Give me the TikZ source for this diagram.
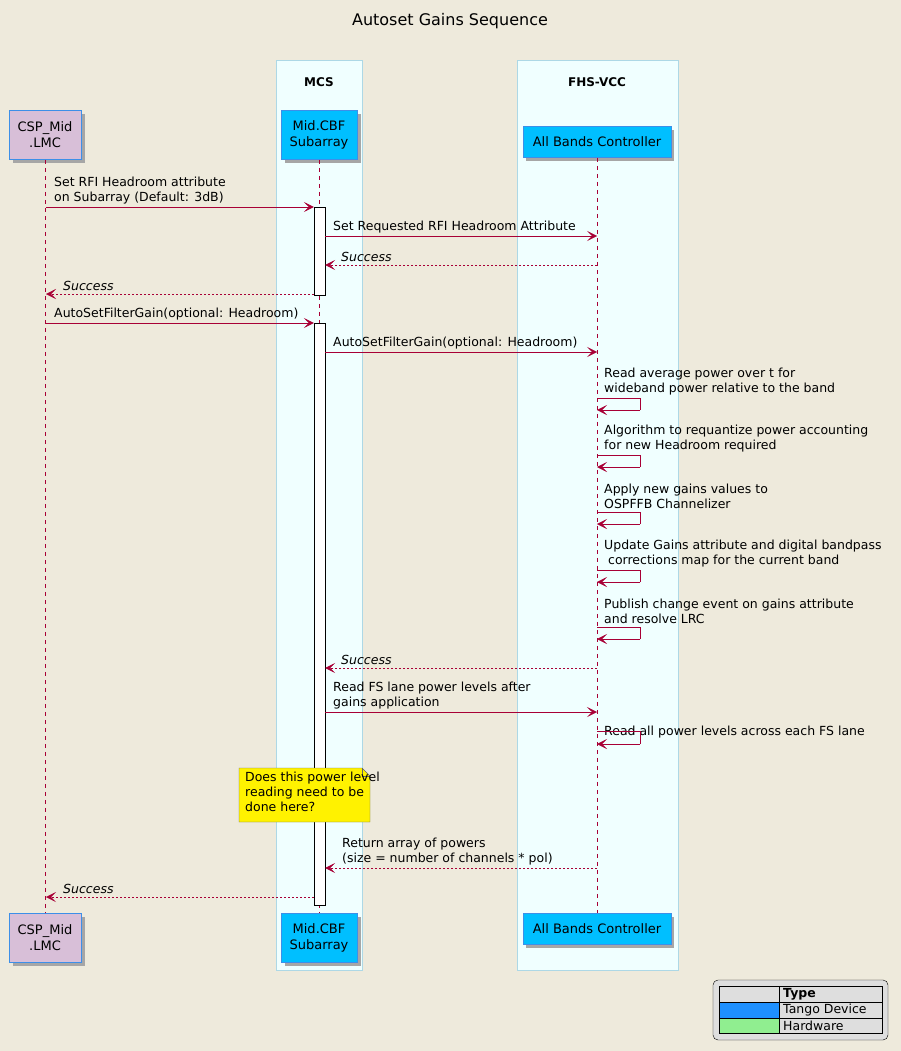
\documentclass[tikz,border=0pt]{standalone}
\usepackage{fontspec}
\setmainfont{DejaVu Sans}
\usetikzlibrary{arrows.meta,shapes.misc,shapes.multipart}
\definecolor{bgc}{HTML}{EEEADC}
\definecolor{lifec}{HTML}{A80036}
\definecolor{boxc}{HTML}{F0FFFF}
\definecolor{boxline}{HTML}{ADD8E6}
\definecolor{tango}{HTML}{00BFFF}
\definecolor{thist}{HTML}{D8BFD8}
\definecolor{partline}{HTML}{3D8FE8}
\definecolor{legblue}{HTML}{1E90FF}
\definecolor{leggreen}{HTML}{90EE90}
\tikzset{
  part/.style={draw=partline, thick, align=center, inner sep=0, font=\fontsize{13}{16}\selectfont},
  shade/.style={fill=black!35, draw=none},
  life/.style={lifec, dashed, dash pattern=on 4pt off 4pt},
  msg/.style={lifec, -{Stealth[length=10pt,width=10pt,inset=5pt]}},
  ret/.style={msg, dash pattern=on 2pt off 2pt},
  txt/.style={anchor=south west, align=left, inner sep=0, font=\fontsize{12.5}{15}\selectfont},
  act/.style={draw=black, fill=white}
}
\newcommand{\selfmsg}[2]{% y top, text
  \node[txt] at (604,#1-3) {#2};
  \draw[lifec] (lfhs |- 0,#1) -- (640,#1) -- (640,#1+12);
  \draw[msg] (640,#1+12) -- (lfhs |- 0,#1+12);
}
\begin{document}
\begin{tikzpicture}[x=1pt,y=-1pt]
  \fill[bgc] (0,0) rectangle (901,1051);
  \useasboundingbox (0,0) rectangle (901,1051);
  \node (title) at (450,21) {\fontsize{16}{19}\selectfont Autoset Gains Sequence};
  % boxes
  \draw[boxline, fill=boxc] (276,60) rectangle (362,970);
  \draw[boxline, fill=boxc] (517,60) rectangle (678,970);
  \node[font=\fontsize{12}{14}\selectfont\bfseries] (mcs) at (319,82) {MCS};
  \node[font=\fontsize{12}{14}\selectfont\bfseries] (fhs) at (597,82) {FHS-VCC};
  % participants
  \foreach \y/\t in {110/top,913/bot}{
    \fill[shade] (13,\y+4) rectangle (85,\y+53);
    \node[part, fill=thist, minimum width=72pt, minimum height=49pt, anchor=north] (csp\t) at (45,\y) {CSP\_Mid\\.LMC};
    \fill[shade] (285,\y+4) rectangle (361,\y+53);
    \node[part, fill=tango, minimum width=76pt, minimum height=49pt, anchor=north] (sub\t) at (319,\y) {Mid.CBF\\Subarray};
  }
  \fill[shade] (526,130) rectangle (674,161);
  \node[part, fill=tango, minimum width=148pt, minimum height=31pt, anchor=north] (abctop) at (597,126) {All Bands Controller};
  \fill[shade] (526,917) rectangle (674,948);
  \node[part, fill=tango, minimum width=148pt, minimum height=31pt, anchor=north] (abcbot) at (597,913) {All Bands Controller};
  % lifelines
  \coordinate (lcsp) at (46,0);
  \coordinate (lsub) at (319,0);
  \coordinate (lfhs) at (597,0);
  \draw[life] (csptop) -- (cspbot);
  \draw[life] (subtop) -- (subbot);
  \draw[life] (abctop) -- (abcbot);
  % activations
  \node[act, minimum width=11pt, minimum height=88pt, inner sep=0, anchor=north] (act1) at (319.5,207) {};
  \node[act, minimum width=11pt, minimum height=582pt, inner sep=0, anchor=north] (act2) at (319.5,323) {};
  % messages
  \node[txt] at (54,204) {Set RFI Headroom attribute\\on Subarray (Default: 3dB)};
  \draw[msg] (lcsp |- 0,207) -- (act1.west |- 0,207);
  \node[txt] at (333,233) {Set Requested RFI Headroom Attribute};
  \draw[msg] (act1.east |- 0,236) -- (lfhs |- 0,236);
  \node[txt] at (341,262) {\itshape Success};
  \draw[ret] (lfhs |- 0,265) -- (act1.east |- 0,265);
  \node[txt] at (63,291) {\itshape Success};
  \draw[ret] (act1.west |- 0,294) -- (lcsp |- 0,294);
  \node[txt] at (54,320) {AutoSetFilterGain(optional: Headroom)};
  \draw[msg] (lcsp |- 0,323) -- (act2.west |- 0,323);
  \node[txt] at (333,349) {AutoSetFilterGain(optional: Headroom)};
  \draw[msg] (act2.east |- 0,352) -- (lfhs |- 0,352);
  \selfmsg{398}{Read average power over t for\\wideband power relative to the band}
  \selfmsg{455}{Algorithm to requantize power accounting\\for new Headroom required}
  \selfmsg{512}{Apply new gains values to\\OSPFFB Channelizer}
  \selfmsg{570}{Update Gains attribute and digital bandpass\\\ corrections map for the current band}
  \selfmsg{627}{Publish change event on gains attribute\\and resolve LRC}
  \node[txt] at (341,665) {\itshape Success};
  \draw[ret] (lfhs |- 0,668) -- (act2.east |- 0,668);
  \node[txt] at (333,709) {Read FS lane power levels after\\gains application};
  \draw[msg] (act2.east |- 0,712) -- (lfhs |- 0,712);
  \node[txt, anchor=west] at (604,732) {Read all power levels across each FS lane};
  \draw[lifec] (lfhs |- 0,731) -- (640,731) -- (640,744);
  \draw[msg] (640,744) -- (lfhs |- 0,744);
  % note
  \draw[black!60, fill=yellow] (239,768) -- (362,768) -- (370,776) -- (370,822) -- (239,822) -- cycle;
  \draw[black!60] (362,768) -- (362,776) -- (370,776);
  \node[txt, anchor=north west] (note) at (245,772) {Does this power level\\reading need to be\\done here?};
  \node[txt] at (342,865) {Return array of powers\\(size = number of channels * pol)};
  \draw[ret] (lfhs |- 0,868) -- (act2.east |- 0,868);
  \node[txt] at (63,894) {\itshape Success};
  \draw[ret] (act2.west |- 0,897) -- (lcsp |- 0,897);
  % legend
  \draw[black, fill=black!13, rounded corners=5pt] (713,980) rectangle (888,1040);
  \fill[legblue] (719,1002) rectangle (779,1018);
  \fill[leggreen] (719,1018) rectangle (779,1033);
  \draw[black] (719,986) rectangle (882,1033);
  \draw[black] (779,986) -- (779,1033);
  \draw[black] (719,1002) -- (882,1002) (719,1018) -- (882,1018);
  \node[txt, anchor=west] (lhead) at (783,994) {\bfseries Type};
  \node[txt, anchor=west] (ltango) at (783,1010) {Tango Device};
  \node[txt, anchor=west] (lhw) at (783,1026) {Hardware};
\end{tikzpicture}
\end{document}
